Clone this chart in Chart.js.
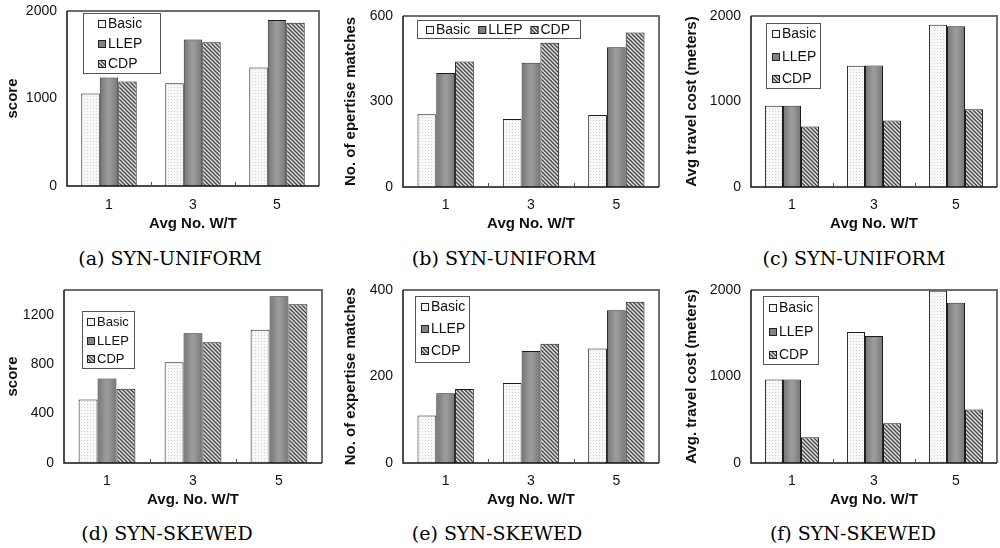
<!DOCTYPE html>
<html lang="en">
<head>
<meta charset="UTF-8">
<title>SYN-UNIFORM / SYN-SKEWED</title>
<script src="https://cdn.jsdelivr.net/npm/chart.js"></script>
<style>
  body { margin: 0; background: #fff; }
  #page { position: relative; width: 1000px; height: 548px; overflow: hidden; }
  #page canvas { position: absolute; }
  .cap { position: absolute; font-family: "DejaVu Serif", serif; font-size: 19px; color: #000;
         transform: translate(-50%, -50%); white-space: nowrap; }
</style>
</head>
<body>
<div id="page">
  <canvas id="ca"></canvas>
  <canvas id="cb"></canvas>
  <canvas id="cc"></canvas>
  <canvas id="cd"></canvas>
  <canvas id="ce"></canvas>
  <canvas id="cf"></canvas>
  <div class="cap" style="left:170px;top:258px">(a) SYN-UNIFORM</div>
  <div class="cap" style="left:504px;top:258px">(b) SYN-UNIFORM</div>
  <div class="cap" style="left:854px;top:258px">(c) SYN-UNIFORM</div>
  <div class="cap" style="left:167px;top:533px">(d) SYN-SKEWED</div>
  <div class="cap" style="left:497px;top:533px">(e) SYN-SKEWED</div>
  <div class="cap" style="left:853px;top:533px">(f) SYN-SKEWED</div>
</div>

<script>
// categories and series
var categories = ['1', '3', '5'];
var seriesNames = ['Basic', 'LLEP', 'CDP'];

// (a) score, SYN-UNIFORM
var basicA = [1057, 1175, 1354];
var llepA = [1240, 1673, 1897];
var cdpA = [1194, 1643, 1867];
var ticksA = [0, 1000, 2000];

// (b) expertise matches, SYN-UNIFORM
var basicB = [255, 239, 253];
var llepB = [400, 436, 490];
var cdpB = [440, 506, 542];
var ticksB = [0, 300, 600];

// (c) travel cost, SYN-UNIFORM
var basicC = [951, 1417, 1899];
var llepC = [951, 1421, 1880];
var cdpC = [707, 777, 909];
var ticksC = [0, 1000, 2000];

// (d) score, SYN-SKEWED
var basicD = [513, 815, 1078];
var llepD = [684, 1051, 1350];
var cdpD = [600, 978, 1284];
var ticksD = [0, 400, 800, 1200];

// (e) expertise matches, SYN-SKEWED
var basicE = [110, 185, 265];
var llepE = [161, 259, 353];
var cdpE = [171, 276, 373];
var ticksE = [0, 200, 400];

// (f) travel cost, SYN-SKEWED
var basicF = [965, 1514, 1992];
var llepF = [965, 1467, 1853];
var cdpF = [297, 459, 618];
var ticksF = [0, 1000, 2000];

var SANS = '"Liberation Sans", Arial, sans-serif';

// fill patterns
function makeTile(size, draw) {
    var t = document.createElement('canvas');
    t.width = size; t.height = size;
    draw(t.getContext('2d'));
    return document.createElement('canvas').getContext('2d').createPattern(t, 'repeat');
}
var dotPat = makeTile(3, function (g) {
    g.fillStyle = '#f8f8f8'; g.fillRect(0, 0, 3, 3);
    g.fillStyle = '#d2d2d2'; g.fillRect(0, 0, 1, 1);
});
var hatchPat = makeTile(4, function (g) {
    g.fillStyle = '#e6e6e6'; g.fillRect(0, 0, 4, 4);
    g.strokeStyle = '#4a4a4a'; g.lineWidth = 1.5;
    g.beginPath();
    g.moveTo(-1, -1); g.lineTo(5, 5);
    g.moveTo(-1, 3); g.lineTo(1, 5);
    g.moveTo(3, -1); g.lineTo(5, 1);
    g.stroke();
});
var fills = [dotPat, '#838383', hatchPat];

// lighter vertical band on the LLEP bars, frame, small ticks between categories
var framePlugin = {
    id: 'frame',
    afterDatasetsDraw: function (chart) {
        var a = chart.chartArea, c = chart.ctx, xs = chart.scales.x;
        c.save();
        chart.getDatasetMeta(1).data.forEach(function (bar) {
            var p = bar.getProps(['x', 'y', 'base', 'width'], true);
            var x0 = p.x - p.width / 2 + 1, x1 = p.x + p.width / 2 - 1;
            var gr = c.createLinearGradient(x0, 0, x1, 0);
            gr.addColorStop(0, '#7a7a7a');
            gr.addColorStop(0.45, '#9c9c9c');
            gr.addColorStop(0.6, '#989898');
            gr.addColorStop(1, '#7a7a7a');
            c.fillStyle = gr;
            c.fillRect(x0, p.y + 1, x1 - x0, p.base - p.y - 1);
        });
        c.strokeStyle = '#6e6e6e'; c.lineWidth = 2;
        c.beginPath();
        c.moveTo(a.left, a.top); c.lineTo(a.right, a.top); c.lineTo(a.right, a.bottom);
        c.stroke();
        c.strokeStyle = '#111'; c.lineWidth = 1.5;
        c.beginPath();
        c.moveTo(a.left, a.top); c.lineTo(a.left, a.bottom); c.lineTo(a.right, a.bottom);
        c.stroke();
        var half = (xs.getPixelForValue(1) - xs.getPixelForValue(0)) / 2;
        c.strokeStyle = '#555'; c.lineWidth = 1;
        c.beginPath();
        for (var i = 0; i < categories.length - 1; i++) {
            var px = Math.round(xs.getPixelForValue(i) + half) + 0.5;
            c.moveTo(px, a.bottom); c.lineTo(px, a.bottom - 4);
        }
        c.stroke();
        c.restore();
    }
};

// boxed legend drawn inside the plot
var legendPlugin = {
    id: 'boxLegend',
    afterDraw: function (chart, args, o) {
        var c = chart.ctx;
        c.save();
        c.fillStyle = '#fff'; c.fillRect(o.x, o.y, o.w, o.h);
        c.strokeStyle = '#555'; c.lineWidth = 1;
        c.strokeRect(o.x + 0.5, o.y + 0.5, o.w - 1, o.h - 1);
        c.font = o.size + 'px ' + SANS;
        c.textBaseline = 'middle';
        var cx = o.x + o.pad, cy = o.y + o.first;
        chart.data.datasets.forEach(function (ds) {
            var sy = Math.round(cy - 4);
            c.fillStyle = ds.backgroundColor; c.fillRect(cx, sy, 8, 8);
            c.strokeStyle = '#222'; c.strokeRect(cx + 0.5, sy + 0.5, 7, 7);
            c.fillStyle = '#111'; c.fillText(ds.label, cx + 10, cy + 0.5);
            if (o.horizontal) cx += 10 + c.measureText(ds.label).width + 8;
            else cy += o.gap;
        });
        c.restore();
    }
};

function makePanel(id, box, area, opt) {
    var cv = document.getElementById(id);
    cv.width = box.w; cv.height = box.h;
    cv.style.left = box.x + 'px'; cv.style.top = box.y + 'px';
    var yW = area.l - box.x, xH = box.y + box.h - area.b;
    var lg = opt.legend;
    lg.x -= box.x; lg.y -= box.y;
    new Chart(cv, {
        type: 'bar',
        data: {
            labels: categories,
            datasets: opt.data.map(function (d, i) {
                return { label: seriesNames[i], data: d, backgroundColor: fills[i] };
            })
        },
        options: {
            responsive: false,
            animation: false,
            devicePixelRatio: 1,
            layout: { padding: { left: 0, top: area.t - box.y, right: box.x + box.w - area.r, bottom: 0 } },
            datasets: { bar: { categoryPercentage: 0.66, barPercentage: 1, borderColor: '#1a1a1a', borderWidth: 1 } },
            plugins: { legend: { display: false }, tooltip: { enabled: false }, boxLegend: lg },
            scales: {
                x: {
                    grid: { display: false, drawTicks: false }, border: { display: false },
                    ticks: { font: { family: SANS, size: 14 }, color: '#111', padding: opt.xPad, maxRotation: 0 },
                    title: { display: true, text: opt.xTitle, font: { family: SANS, size: 15, weight: 'bold' }, color: '#111', padding: 0 },
                    afterFit: function (s) { s.height = xH; s.paddingLeft = 0; s.paddingRight = 0; }
                },
                y: {
                    min: 0, max: opt.max,
                    afterBuildTicks: function (s) { s.ticks = opt.ticks.map(function (v) { return { value: v }; }); },
                    grid: { display: false, drawTicks: false }, border: { display: false },
                    ticks: { font: { family: SANS, size: 14 }, color: '#111', padding: 10, callback: function (v) { return String(v); } },
                    title: { display: true, text: opt.yTitle, font: { family: SANS, size: 15, weight: 'bold' }, color: '#111', padding: { top: 4, bottom: 0 } },
                    afterFit: function (s) { s.width = yW; s.paddingTop = 0; s.paddingBottom = 0; }
                }
            }
        },
        plugins: [framePlugin, legendPlugin]
    });
}

makePanel('ca', { x: 0, y: 0, w: 330, h: 233 }, { l: 67, t: 11, r: 319, b: 186 }, {
    data: [basicA, llepA, cdpA], max: 2000, ticks: ticksA, xPad: 11,
    yTitle: 'score', xTitle: 'Avg No. W/T',
    legend: { x: 83, y: 13, w: 78, h: 61, pad: 15, first: 11, gap: 20, size: 14 }
});
makePanel('cb', { x: 338, y: 0, w: 327, h: 233 }, { l: 403, t: 16, r: 659, b: 187 }, {
    data: [basicB, llepB, cdpB], max: 600, ticks: ticksB, xPad: 10,
    yTitle: 'No. of epertise matches', xTitle: 'Avg No. W/T',
    legend: { x: 417, y: 20, w: 164, h: 19, pad: 9, first: 9.5, horizontal: true, size: 14 }
});
makePanel('cc', { x: 679, y: 0, w: 321, h: 233 }, { l: 751, t: 16, r: 997, b: 187 }, {
    data: [basicC, llepC, cdpC], max: 2000, ticks: ticksC, xPad: 10,
    yTitle: 'Avg travel cost (meters)', xTitle: 'Avg No. W/T',
    legend: { x: 766, y: 23, w: 55, h: 66, pad: 6, first: 11, gap: 22.5, size: 14 }
});
makePanel('cd', { x: 0, y: 275, w: 330, h: 234 }, { l: 64, t: 290, r: 322, b: 463 }, {
    data: [basicD, llepD, cdpD], max: 1400, ticks: ticksD, xPad: 10,
    yTitle: 'score', xTitle: 'Avg. No. W/T',
    legend: { x: 82, y: 311, w: 53, h: 58, pad: 5, first: 11, gap: 18.5, size: 13 }
});
makePanel('ce', { x: 338, y: 275, w: 327, h: 234 }, { l: 403, t: 290, r: 659, b: 463 }, {
    data: [basicE, llepE, cdpE], max: 400, ticks: ticksE, xPad: 10,
    yTitle: 'No. of expertise matches', xTitle: 'Avg No. W/T',
    legend: { x: 415, y: 296, w: 55, h: 67, pad: 6, first: 11, gap: 22, size: 14 }
});
makePanel('cf', { x: 679, y: 275, w: 321, h: 234 }, { l: 751, t: 290, r: 997, b: 463 }, {
    data: [basicF, llepF, cdpF], max: 2000, ticks: ticksF, xPad: 10,
    yTitle: 'Avg. travel cost (meters)', xTitle: 'Avg No. W/T',
    legend: { x: 763, y: 296, w: 56, h: 69, pad: 6, first: 12, gap: 23.5, size: 14 }
});
</script>
</body>
</html>
